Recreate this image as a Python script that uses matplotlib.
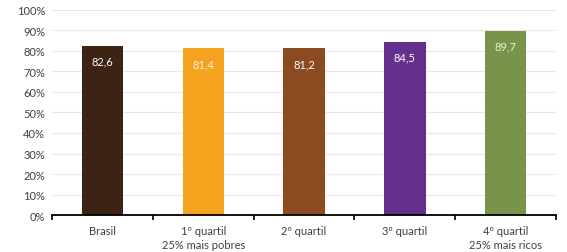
import matplotlib
matplotlib.use("Agg")
import matplotlib.pyplot as plt
import numpy as np

categories = ["Brasil", "1º quartil\n25% mais pobres", "2º quartil", "3º quartil", "4º quartil\n25% mais ricos"]
values = [82.6, 81.4, 81.2, 84.5, 89.7]
labels = ["82,6", "81,4", "81,2", "84,5", "89,7"]
colors = ["#3d2314", "#f5a31e", "#8c4a20", "#64308e", "#77944a"]
label_colors = ["#ffffff", "#fff3dc", "#ffffff", "#ffffff", "#e8f5d0"]
yticks = list(range(0, 101, 10))

plt.rcParams['font.family'] = ['Lato', 'DejaVu Sans']
fig = plt.figure(figsize=(5.67, 2.53), dpi=100)
ax = fig.add_axes([0.0917, 0.146, 0.889, 0.811])
x = np.arange(len(categories))
ax.bar(x, values, width=0.41, color=colors, zorder=3)
for xi, v, lab, lc in zip(x, values, labels, label_colors):
    ax.text(xi, v - 7.5, lab, ha='center', va='center', color=lc, fontsize=8, zorder=4)

ax.set_xlim(-0.5, len(categories) - 0.5)
ax.set_ylim(0, 100)
ax.set_yticks(yticks)
ax.set_yticklabels([f"{t}%" for t in yticks], fontsize=8, color="#404040")
ax.set_xticks(np.arange(-0.5, len(categories), 1.0))
ax.set_xticklabels([])
ax.set_xticks(x, minor=True)
ax.set_xticklabels(categories, minor=True, fontsize=8, color="#404040", linespacing=1.4)
ax.tick_params(axis='x', which='minor', length=0, pad=7)
ax.tick_params(axis='x', which='major', length=3.5, width=1.2, color='black', direction='out')
ax.tick_params(axis='y', length=0, pad=5)
ax.yaxis.grid(True, color="#e8e8e8", linewidth=0.9, zorder=0)
for s in ['top', 'right', 'left']:
    ax.spines[s].set_visible(False)
ax.spines['bottom'].set_linewidth(1.3)
ax.spines['bottom'].set_color('black')
ax.spines['bottom'].set_zorder(5)
fig.savefig("out.png", dpi=100)
